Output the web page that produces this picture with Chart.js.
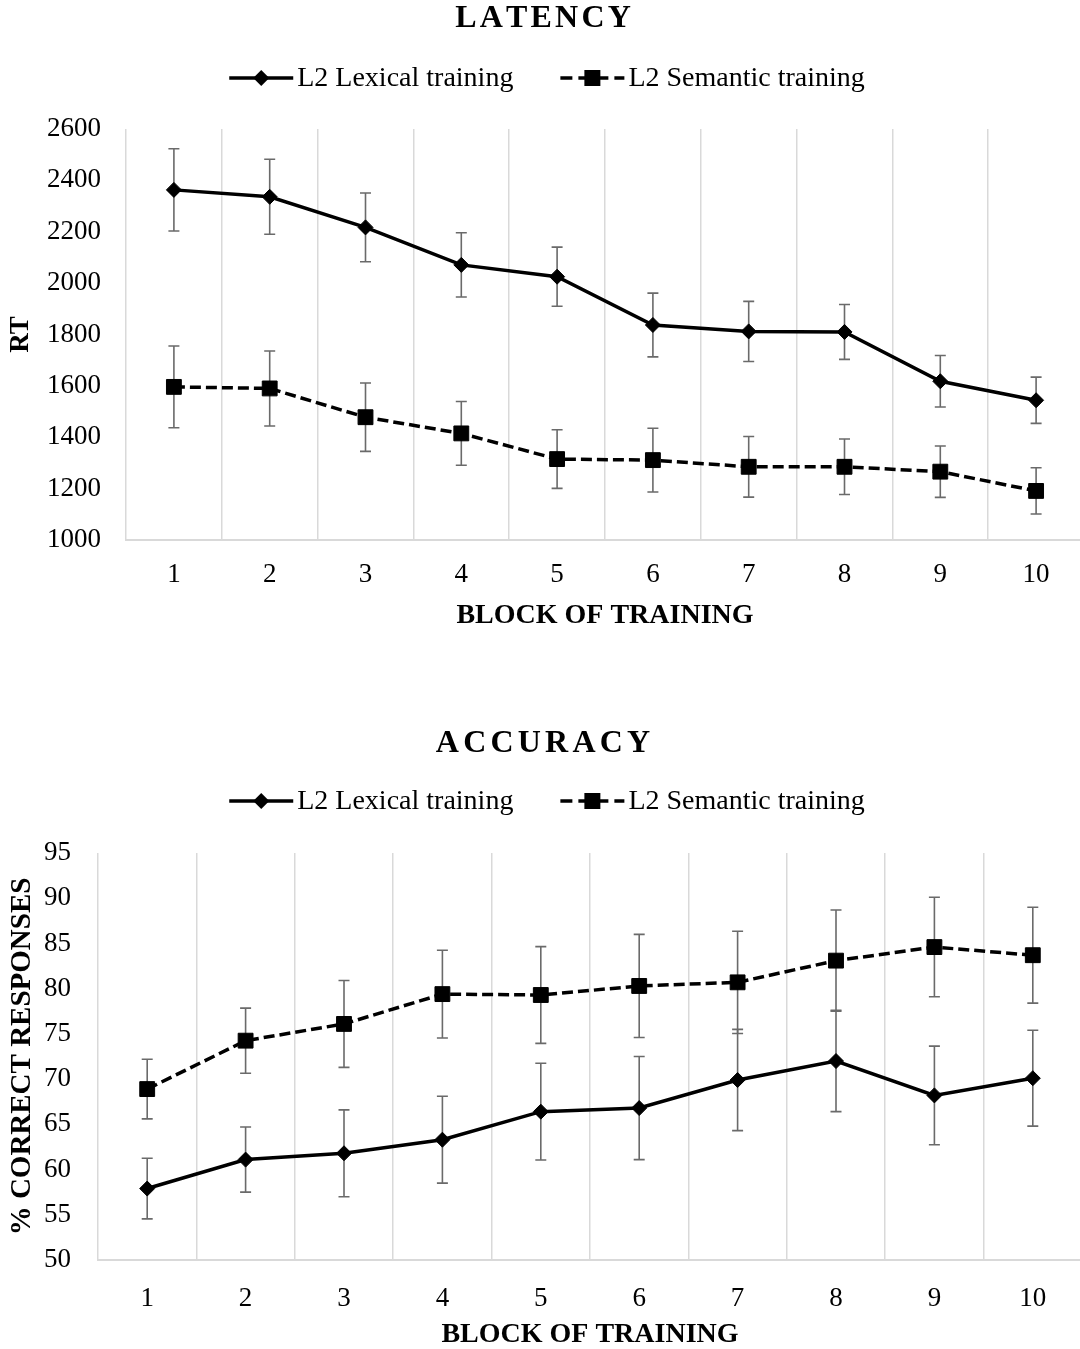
<!DOCTYPE html>
<html><head><meta charset="utf-8">
<script src="https://cdn.jsdelivr.net/npm/chart.js@4.4.1/dist/chart.umd.min.js"></script>
<style>
html,body{margin:0;padding:0;background:#fff;overflow:hidden;width:1080px;height:1349px;}
#c1wrap{position:absolute;left:0;top:0;width:1084px;height:640px;}
#c2wrap{position:absolute;left:0;top:700px;width:1084px;height:652px;}
</style></head><body>
<div id="c1wrap"><canvas id="c1"></canvas></div>
<div id="c2wrap"><canvas id="c2"></canvas></div>
<script>
// ---- data ----
const blocks = ['1','2','3','4','5','6','7','8','9','10'];
const seriesNames = ['L2 Lexical training', 'L2 Semantic training'];

const rtLexical     = [2363, 2336, 2217, 2071, 2025, 1837, 1812, 1810, 1618, 1544];
const rtLexicalErr  = [160, 146, 134, 125, 115, 124, 117, 107, 100, 90];
const rtSemantic    = [1596, 1590, 1478, 1415, 1315, 1311, 1285, 1285, 1266, 1191];
const rtSemanticErr = [159, 146, 133, 124, 114, 124, 118, 108, 100, 90];

const accLexical     = [57.9, 61.1, 61.8, 63.3, 66.4, 66.8, 69.9, 72.0, 68.2, 70.1];
const accLexicalErr  = [3.35, 3.6, 4.8, 4.8, 5.35, 5.7, 5.6, 5.6, 5.45, 5.3];
const accSemantic    = [68.9, 74.25, 76.1, 79.4, 79.3, 80.3, 80.7, 83.1, 84.6, 83.7];
const accSemanticErr = [3.3, 3.6, 4.8, 4.85, 5.35, 5.7, 5.65, 5.6, 5.5, 5.3];

const rtTicks  = {min: 1000, max: 2600, step: 200};
const accTicks = {min: 50, max: 95, step: 5};

// ---- styling ----
const FONT = '"Liberation Serif", "Times New Roman", serif';
Chart.defaults.font.family = FONT;
Chart.defaults.color = '#000';
const GRID = '#d9d9d9';
const ERR = '#6a6a6a';

const errorBarPlugin = {
  id: 'errorBars',
  beforeDatasetsDraw(chart) {
    const ctx = chart.ctx, ys = chart.scales.y;
    chart.data.datasets.forEach((ds, i) => {
      if (!ds.errors) return;
      const meta = chart.getDatasetMeta(i);
      ctx.save();
      ctx.strokeStyle = ERR; ctx.lineWidth = 1.6;
      meta.data.forEach((pt, j) => {
        const v = ds.data[j], e = ds.errors[j];
        const x = pt.x, yt = ys.getPixelForValue(v + e), yb = ys.getPixelForValue(v - e);
        ctx.beginPath();
        ctx.moveTo(x, yt); ctx.lineTo(x, yb);
        ctx.moveTo(x - 5.5, yt); ctx.lineTo(x + 5.5, yt);
        ctx.moveTo(x - 5.5, yb); ctx.lineTo(x + 5.5, yb);
        ctx.stroke();
      });
      ctx.restore();
    });
  }
};

function drawMarker(ctx, kind, x, y) {
  ctx.fillStyle = '#000';
  ctx.beginPath();
  if (kind === 'diamond') {
    const r = 8;
    ctx.moveTo(x, y - r); ctx.lineTo(x + r, y); ctx.lineTo(x, y + r); ctx.lineTo(x - r, y);
    ctx.closePath();
  } else {
    ctx.rect(x - 8, y - 8, 16, 16);
  }
  ctx.fill();
}

const headerPlugin = {
  id: 'header',
  afterDraw(chart, args, opts) {
    const ctx = chart.ctx;
    ctx.save();
    ctx.fillStyle = '#000';
    ctx.textBaseline = 'middle';
    // title with letter spacing
    ctx.font = 'bold 32px ' + FONT;
    const chars = opts.title.split('');
    const ls = opts.letterSpacing;
    const ws = chars.map(c => ctx.measureText(c).width);
    const tot = ws.reduce((a, b) => a + b, 0) + ls * (chars.length - 1);
    let x = opts.titleX - tot / 2;
    chars.forEach((c, i) => { ctx.fillText(c, x, opts.titleY); x += ws[i] + ls; });
    // legend
    ctx.font = '28px ' + FONT;
    const symW = 64, gap = 4, itemGap = 47;
    const tw = seriesNames.map(n => ctx.measureText(n).width);
    const total = symW * 2 + gap * 2 + tw[0] + tw[1] + itemGap;
    let lx = opts.legendX - total / 2;
    const ly = opts.legendY;
    seriesNames.forEach((name, i) => {
      ctx.save();
      ctx.strokeStyle = '#000'; ctx.lineWidth = 3.5;
      if (i === 1) ctx.setLineDash([12, 6]);
      ctx.beginPath(); ctx.moveTo(lx, ly); ctx.lineTo(lx + symW, ly); ctx.stroke();
      ctx.restore();
      drawMarker(ctx, i === 0 ? 'diamond' : 'square', lx + symW / 2, ly);
      ctx.fillStyle = '#000';
      ctx.textAlign = 'left';
      ctx.fillText(name, lx + symW + gap, ly + 1);
      lx += symW + gap + tw[i] + itemGap;
    });
    ctx.restore();
  }
};

function buildChart(canvasId, cfg) {
  const datasets = [
    {
      label: seriesNames[0], data: cfg.lex, errors: cfg.lexErr,
      borderColor: '#000', backgroundColor: '#000', borderWidth: 3.5,
      pointStyle: 'rectRot', pointRadius: 7.5, pointBorderWidth: 1,
      pointBackgroundColor: '#000', pointBorderColor: '#000', tension: 0
    },
    {
      label: seriesNames[1], data: cfg.sem, errors: cfg.semErr,
      borderColor: '#000', backgroundColor: '#000', borderWidth: 3.5, borderDash: [11, 5],
      pointStyle: 'rect', pointRadius: 10.5, pointBorderWidth: 1,
      pointBackgroundColor: '#000', pointBorderColor: '#000', tension: 0
    }
  ];
  return new Chart(document.getElementById(canvasId), {
    type: 'line',
    data: { labels: blocks, datasets },
    plugins: [errorBarPlugin, headerPlugin],
    options: {
      responsive: true, maintainAspectRatio: false, animation: false, devicePixelRatio: 1,
      layout: { autoPadding: false, padding: { top: cfg.top, left: 0, right: cfg.right, bottom: 0 } },
      plugins: {
        legend: { display: false }, tooltip: { enabled: false },
        header: { title: cfg.title, letterSpacing: cfg.ls, titleX: 543, titleY: cfg.titleY, legendX: 547, legendY: cfg.legendY }
      },
      scales: {
        x: {
          type: 'category', offset: true,
          grid: { display: true, offset: true, drawTicks: false, color: GRID, lineWidth: 1.5 },
          border: { display: true, color: GRID, width: 2 },
          ticks: { font: { size: 27 }, color: '#000', padding: cfg.xPad, maxRotation: 0 },
          title: { display: true, text: 'BLOCK OF TRAINING', font: { size: 28, weight: 'bold' }, color: '#000', padding: { top: 0, bottom: cfg.xTitlePad } },
          afterFit(s) { s.height = cfg.xHeight; s.paddingLeft = 0; s.paddingRight = 0; }
        },
        y: {
          min: cfg.ticks.min, max: cfg.ticks.max,
          grid: { display: false, drawTicks: false },
          border: { display: false },
          ticks: { stepSize: cfg.ticks.step, font: { size: 27 }, color: '#000', padding: cfg.yPad,
                   callback: v => String(v) },
          title: { display: true, text: cfg.yTitle, font: { size: cfg.yTitleSize, weight: 'bold' }, color: '#000', padding: { top: 5, bottom: 0 } },
          afterFit(s) { s.width = cfg.yWidth; }
        }
      }
    }
  });
}

buildChart('c1', {
  lex: rtLexical, lexErr: rtLexicalErr, sem: rtSemantic, semErr: rtSemanticErr,
  ticks: rtTicks, title: 'LATENCY', ls: 3.2, yTitle: 'RT', yTitleSize: 27,
  top: 129, right: 0, titleY: 19, legendY: 78,
  xPad: 19, xHeight: 100, xTitlePad: 7, yWidth: 126, yPad: 25
});
buildChart('c2', {
  lex: accLexical, lexErr: accLexicalErr, sem: accSemantic, semErr: accSemanticErr,
  ticks: accTicks, title: 'ACCURACY', ls: 4.2, yTitle: '% CORRECT RESPONSES', yTitleSize: 29,
  top: 153, right: 2, titleY: 44, legendY: 101,
  xPad: 23, xHeight: 92, xTitlePad: 0, yWidth: 98, yPad: 27
});
</script>
</body></html>
